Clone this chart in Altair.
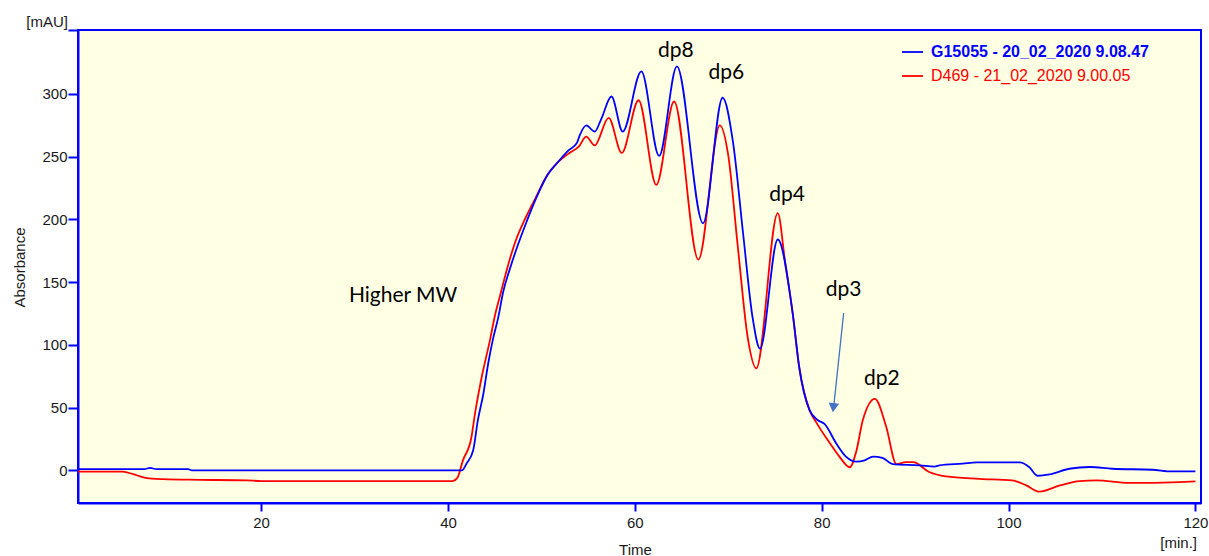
import altair as alt
import pandas as pd

# ---- series names ----
blue_name = "G15055 - 20_02_2020 9.08.47"
red_name = "D469 - 21_02_2020 9.00.05"

# ---- blue trace (time [min], absorbance [mAU]) ----
blue_t = [0.4, 5, 7.5, 8.1, 8.8, 12.2, 12.6, 41.5, 42.0, 42.7, 43.2, 43.8, 44.3, 44.8, 45.4,
          45.9, 46.6, 47.5, 48.3, 49.5, 50.7, 51.8, 52.9, 53.8, 54.1, 54.8, 55.7, 56.4,
          57.5, 58.7, 60.7, 62.6, 64.5, 67.3, 69.4, 70.5, 71.6, 72.6, 73.4, 75.3, 76.9,
          77.6, 78.7, 79.6, 80.3, 81.6, 82.6, 83.7, 84.6, 85.5, 86.5, 87.6, 90.5, 92.1,
          92.6, 95.1, 96.6, 101.2, 102.2, 103.1, 104.4, 106.5, 108.7, 111.1, 115.4,
          117.5, 120.0]
blue_v = [1, 1, 1, 2, 1, 1, 0, 0, 5.6, 16, 40, 61.5, 85, 104, 122.5,
          142, 160, 180, 196, 218, 236, 246, 255, 261, 267, 275, 270, 280,
          298, 270, 318, 250.6, 322, 197, 297, 262, 188, 122, 97, 184, 125,
          82, 48, 40, 37, 21, 11, 7, 8, 11, 10, 5, 4, 3,
          4, 5.4, 6.4, 6.4, 2.7, -4.3, -3.2, 1.3, 2.7, 1.3, 0.5,
          -0.8, -0.8]

# ---- red trace ----
red_t = [0.4, 3.0, 5.2, 6.3, 7.4, 8.3, 9.5, 13.5, 18.5, 20, 40.5, 41.0, 41.6, 42.5, 42.9,
         43.6, 44.5, 45.0, 45.6, 46.3, 47.2, 48.1, 49.3, 50.6, 51.7, 53.0, 54.0, 54.8,
         55.7, 57.2, 58.6, 60.4, 62.3, 64.2, 66.8, 69.1, 70.0, 71.0, 72.1, 73.0, 75.3,
         76.1, 76.9, 77.6, 78.7, 79.4, 80.9, 81.9, 83.0, 83.7, 84.4, 85.7, 86.9, 88.0,
         89.0, 89.8, 91.5, 93.3, 96.9, 100.4, 101.9, 103.3, 105.5, 107.6, 109.4,
         112.9, 118.3, 120.0]
red_v = [-1, -1, -1, -3, -5.5, -6.5, -7, -7.5, -8, -8.5, -8.5, -6, 8, 26, 45.6,
         74, 104, 122.5, 140, 160, 182, 198, 216, 235, 245, 253, 258, 266,
         259, 281, 253, 295, 227.5, 294, 168, 275, 251, 180, 105, 81.4, 205,
         165, 125, 82, 48, 38.5, 21.5, 11, 2.5, 15, 40, 57, 35, 5,
         6.5, 6.5, -1.3, -4.8, -6.7, -8, -12, -17, -12, -8.5, -8,
         -10, -9.3, -8.8]

# ---- annotations ----
ann_text = ["Higher MW", "dp8", "dp6", "dp4", "dp3", "dp2"]
ann_t = [35.2, 64.4, 69.8, 76.3, 82.35, 86.45]
ann_v = [139, 334.5, 316.5, 219.5, 143.8, 73]

# arrow (dp3)
arrow_t = [82.35, 81.32]
arrow_v = [125.3, 53]
arrow_head_t = [81.25]
arrow_head_v = [50]

x_ticks = [20, 40, 60, 80, 100, 120]
y_ticks = [0, 50, 100, 150, 200, 250, 300, 351]

X_DOMAIN = [0.4, 120.6]
Y_DOMAIN = [-26, 351]
FONT = "Liberation Sans"
BLUE = "#0000FF"
RED = "#FF0000"

blue_df = pd.DataFrame({"time": blue_t, "abs": blue_v})
red_df = pd.DataFrame({"time": red_t, "abs": red_v})
ann_df = pd.DataFrame({"time": ann_t, "abs": ann_v, "label": ann_text})
arrow_df = pd.DataFrame({"t1": [arrow_t[0]], "t2": [arrow_t[1]],
                         "v1": [arrow_v[0]], "v2": [arrow_v[1]]})
head_df = pd.DataFrame({"time": arrow_head_t, "abs": arrow_head_v})

xscale = alt.Scale(domain=X_DOMAIN, nice=False, zero=False)
yscale = alt.Scale(domain=Y_DOMAIN, nice=False, zero=False)

x_axis = alt.Axis(values=x_ticks, title="Time", grid=False, tickSize=8, tickWidth=2,
                  tickColor=BLUE, domainColor=BLUE, domainWidth=2, labelPadding=4,
                  labelFont=FONT, labelFontSize=15, labelColor="#1a1a1a",
                  titleFont=FONT, titleFontSize=15, titleFontWeight="normal",
                  titleColor="#1a1a1a", titleX=557, titleY=46, titleBaseline="middle")
y_axis = alt.Axis(values=y_ticks, title="Absorbance", grid=False, tickSize=10, tickWidth=2,
                  tickColor=BLUE, domainColor=BLUE, domainWidth=2, labelPadding=1,
                  labelExpr="datum.value > 320 ? '' : datum.label",
                  labelFont=FONT, labelFontSize=15, labelColor="#1a1a1a",
                  titleFont=FONT, titleFontSize=15, titleFontWeight="normal",
                  titleColor="#1a1a1a", titleX=-59, titleY=237, titleAlign="center",
                  titleBaseline="middle", titleAngle=270)

red_line = alt.Chart(red_df).mark_line(color=RED, strokeWidth=1.8, interpolate="monotone",
                                       clip=True).encode(
    x=alt.X("time:Q", scale=xscale, axis=x_axis),
    y=alt.Y("abs:Q", scale=yscale, axis=y_axis),
)
blue_line = alt.Chart(blue_df).mark_line(color=BLUE, strokeWidth=1.8, interpolate="monotone",
                                         clip=True).encode(
    x=alt.X("time:Q", scale=xscale),
    y=alt.Y("abs:Q", scale=yscale),
)

ann = alt.Chart(ann_df).mark_text(font="Lato", fontSize=21, color="black",
                                  align="center", baseline="middle").encode(
    x=alt.X("time:Q", scale=xscale), y=alt.Y("abs:Q", scale=yscale), text="label:N")

arrow = alt.Chart(arrow_df).mark_rule(color="#4472C4", strokeWidth=1.3).encode(
    x=alt.X("t1:Q", scale=xscale), x2="t2:Q",
    y=alt.Y("v1:Q", scale=yscale), y2="v2:Q")
head = alt.Chart(head_df).mark_point(shape="triangle-down", filled=True, color="#4472C4",
                                     size=110, angle=7, opacity=1).encode(
    x=alt.X("time:Q", scale=xscale), y=alt.Y("abs:Q", scale=yscale))

# legend (drawn inside the plot, top right)
leg_blue_df = pd.DataFrame({"name": [blue_name]})
leg_red_df = pd.DataFrame({"name": [red_name]})
leg_blue_line = alt.Chart(leg_blue_df).mark_rule(color=BLUE, strokeWidth=1.8).encode(
    x=alt.value(824), x2=alt.value(845), y=alt.value(22))
leg_red_line = alt.Chart(leg_red_df).mark_rule(color=RED, strokeWidth=1.8).encode(
    x=alt.value(824), x2=alt.value(845), y=alt.value(46))
leg_blue_txt = alt.Chart(leg_blue_df).mark_text(font=FONT, fontSize=16, fontWeight="bold",
                                                color=BLUE, align="left",
                                                baseline="middle").encode(
    x=alt.value(853), y=alt.value(22), text="name:N")
leg_red_txt = alt.Chart(leg_red_df).mark_text(font=FONT, fontSize=16, color=RED,
                                              align="left", baseline="middle").encode(
    x=alt.value(853), y=alt.value(46), text="name:N")

# unit labels
mau_df = pd.DataFrame({"u": ["[mAU]"]})
min_df = pd.DataFrame({"u": ["[min.]"]})
mau = alt.Chart(mau_df).mark_text(font=FONT, fontSize=15, color="#1a1a1a", align="right",
                                  baseline="middle").encode(
    x=alt.value(-10), y=alt.value(-8), text="u:N")
mins = alt.Chart(min_df).mark_text(font=FONT, fontSize=15, color="#1a1a1a", align="right",
                                   baseline="middle").encode(
    x=alt.value(1119), y=alt.value(513), text="u:N")

chart = alt.layer(red_line, blue_line, ann, arrow, head,
                  leg_blue_line, leg_red_line, leg_blue_txt, leg_red_txt, mau, mins
).properties(
    width=1123, height=473,
    autosize=alt.AutoSizeParams(type="none"),
    padding={"left": 78, "top": 30, "right": 8, "bottom": 53},
    background="white",
).configure_view(
    fill="#FFFFE4", stroke=BLUE, strokeWidth=2
)

chart.save("out.html", embed_options={"renderer": "svg", "actions": False})
